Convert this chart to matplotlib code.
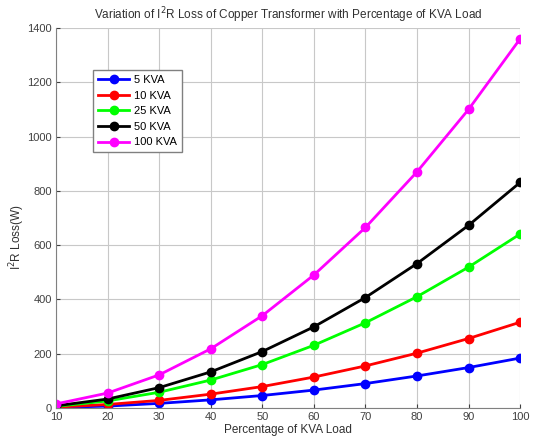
import matplotlib
matplotlib.use('Agg')
import matplotlib.pyplot as plt

plt.rcParams['font.family'] = ['Liberation Sans', 'DejaVu Sans']

load_pct = [10, 20, 30, 40, 50, 60, 70, 80, 90, 100]
loss_5 = [2, 7, 17, 30, 46, 66, 90, 118, 149, 184]
loss_10 = [3, 13, 28, 51, 79, 114, 155, 202, 256, 316]
loss_25 = [6, 26, 58, 103, 160, 231, 314, 410, 519, 641]
loss_50 = [8, 33, 75, 133, 208, 299, 407, 532, 673, 831]
loss_100 = [15, 55, 122, 218, 340, 490, 665, 870, 1100, 1360]
labels = ['5 KVA', '10 KVA', '25 KVA', '50 KVA', '100 KVA']
colors = ['#0000ff', '#ff0000', '#00ff00', '#000000', '#ff00ff']

fig = plt.figure(figsize=(5.46, 4.38), dpi=100)
ax = fig.add_axes([0.1026, 0.0685, 0.85, 0.8676])

for vals, lab, c in zip([loss_5, loss_10, loss_25, loss_50, loss_100], labels, colors):
    ax.plot(load_pct, vals, '-o', color=c, linewidth=2, markersize=6, label=lab)

ax.set_xlim(10, 100)
ax.set_ylim(0, 1400)
ax.set_xticks(load_pct)
ax.set_yticks(range(0, 1401, 200))
ax.tick_params(direction='in', labelsize=8, colors='#404040', length=3, pad=3)
ax.grid(True, color='#c8c8c8', linewidth=0.8)
for s in ['top', 'right']:
    ax.spines[s].set_visible(False)
for s in ['left', 'bottom']:
    ax.spines[s].set_color('#808080')

ax.set_xlabel('Percentage of KVA Load', fontsize=8.5, color='#303030', labelpad=1)
ax.set_ylabel('I$^2$R Loss(W)', fontsize=8.5, color='#303030', labelpad=0)
ax.yaxis.set_label_coords(-0.062, 0.45)
ax.set_title('Variation of I$^2$R Loss of Copper Transformer with Percentage of KVA Load',
             fontsize=8.5, color='#303030', pad=6)

leg = ax.legend(loc='upper left', bbox_to_anchor=(0.08, 0.889), fontsize=8,
                fancybox=False, framealpha=1, borderpad=0.45, labelspacing=0.5,
                handlelength=2.8, handletextpad=0.4, borderaxespad=0)
leg.get_frame().set_edgecolor('#808080')

plt.savefig('out.png', dpi=100)
